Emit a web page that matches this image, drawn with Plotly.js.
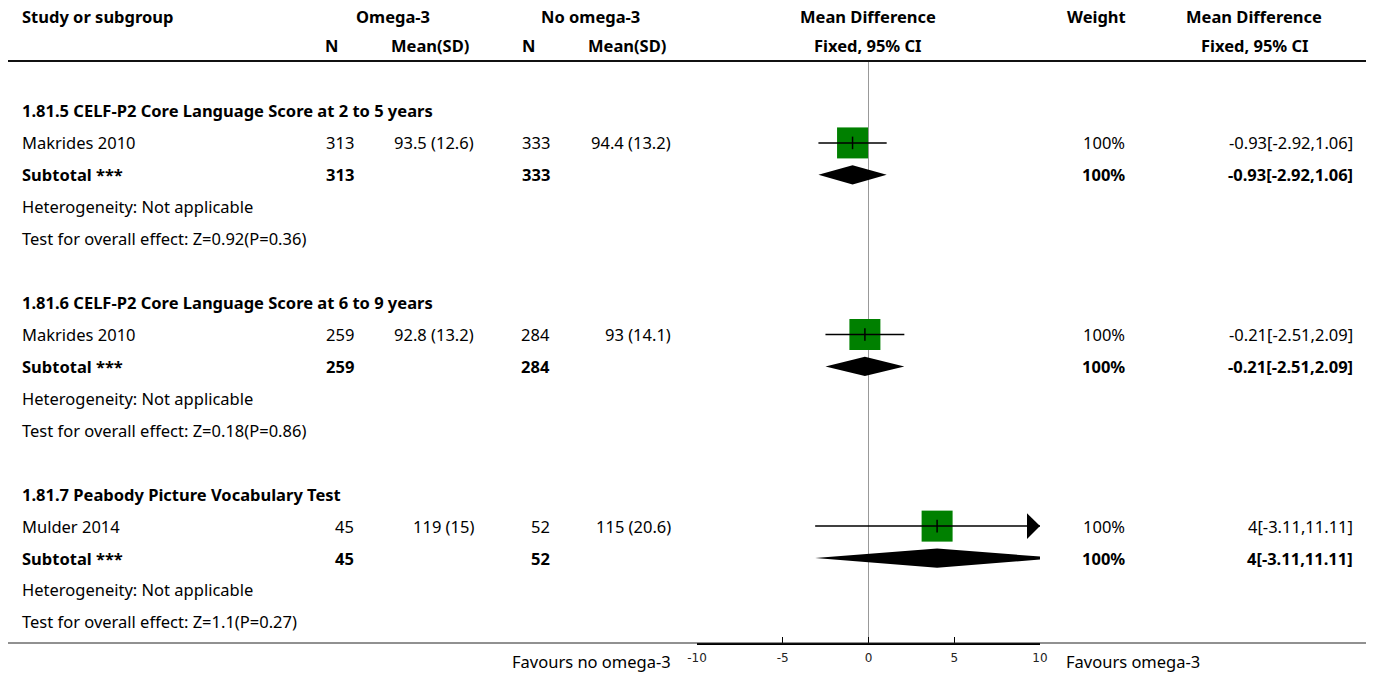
<!DOCTYPE html>
<html>
<head>
<meta charset="utf-8">
<script src="https://cdn.plot.ly/plotly-3.0.1.min.js"></script>
<style>html,body{margin:0;padding:0;background:#fff;}#chart{width:1375px;height:675px;}</style>
</head>
<body>
<div id="chart"></div>
<script>
// ---------- data ----------
const subgroupTitles = [
  "1.81.5 CELF-P2 Core Language Score at 2 to 5 years",
  "1.81.6 CELF-P2 Core Language Score at 6 to 9 years",
  "1.81.7 Peabody Picture Vocabulary Test"
];
const studyNames = ["Makrides 2010", "Makrides 2010", "Mulder 2014"];
const omegaN = [313, 259, 45];
const omegaMeanSD = ["93.5 (12.6)", "92.8 (13.2)", "119 (15)"];
const noOmegaN = [333, 284, 52];
const noOmegaMeanSD = ["94.4 (13.2)", "93 (14.1)", "115 (20.6)"];
const md = [-0.93, -0.21, 4];
const ciLow = [-2.92, -2.51, -3.11];
const ciHigh = [1.06, 2.09, 11.11];
const weights = ["100%", "100%", "100%"];
const subtotalMD = [-0.93, -0.21, 4];
const subtotalLow = [-2.92, -2.51, -3.11];
const subtotalHigh = [1.06, 2.09, 11.11];
const heterogeneity = ["Heterogeneity: Not applicable", "Heterogeneity: Not applicable", "Heterogeneity: Not applicable"];
const overallEffect = ["Test for overall effect: Z=0.92(P=0.36)", "Test for overall effect: Z=0.18(P=0.86)", "Test for overall effect: Z=1.1(P=0.27)"];
const tickValues = [-10, -5, 0, 5, 10];
const tickLabels = ["-10", "-5", "0", "5", "10"];
const axisMin = -10, axisMax = 10;

// ---------- layout helpers ----------
const W = 1375;
const FONT = "'Noto Sans', Lato, sans-serif";
const FS = 16.5;
const px = v => v / W;
const rowsPerGroup = 6;   // title, study, subtotal, heterogeneity, test, blank
const groupStart = g => g * rowsPerGroup;
const shiftX = (x, anchor) => anchor === 'left' ? x - 2 : (anchor === 'right' ? x + 2 : x);

const traces = [];
const annotations = [];
function txt(x, y, text, anchor, bold, yref) {
  annotations.push({
    xref: 'paper', yref: yref || 'y', x: px(shiftX(x, anchor)), y: y, text: bold ? '<b>' + text + '</b>' : text,
    xanchor: anchor, yanchor: 'middle', showarrow: false,
    font: {family: FONT, size: FS, color: '#000'}
  });
}

// squares / CI lines / center ticks / diamonds
const sqX = [], sqY = [], ciX = [], ciY = [], arrows = [];
subgroupTitles.forEach((t, g) => {
  const r0 = groupStart(g);
  const rStudy = r0 + 1, rSub = r0 + 2;
  sqX.push(md[g]); sqY.push(rStudy);
  ciX.push(ciLow[g], Math.min(ciHigh[g], axisMax), null);
  ciY.push(rStudy, rStudy, null);
  if (ciHigh[g] > axisMax) arrows.push(rStudy);
  // diamond
  const h = 0.3;
  traces.push({
    x: [subtotalLow[g], subtotalMD[g], subtotalHigh[g], subtotalMD[g], subtotalLow[g]],
    y: [rSub, rSub - h, rSub, rSub + h, rSub],
    type: 'scatter', mode: 'lines', fill: 'toself', fillcolor: '#000',
    line: {color: '#000', width: 0}, hoverinfo: 'skip', showlegend: false
  });
  // text
  txt(22, r0, t, 'left', true);
  txt(22, rStudy, studyNames[g], 'left');
  txt(354, rStudy, String(omegaN[g]), 'right');
  txt(474, rStudy, omegaMeanSD[g], 'right');
  txt(550, rStudy, String(noOmegaN[g]), 'right');
  txt(671, rStudy, noOmegaMeanSD[g], 'right');
  txt(1125, rStudy, weights[g], 'right');
  txt(1353, rStudy, md[g] + '[' + ciLow[g] + ',' + ciHigh[g] + ']', 'right');
  txt(22, rSub, 'Subtotal ***', 'left', true);
  txt(354, rSub, String(omegaN[g]), 'right', true);
  txt(550, rSub, String(noOmegaN[g]), 'right', true);
  txt(1125, rSub, weights[g], 'right', true);
  txt(1353, rSub, subtotalMD[g] + '[' + subtotalLow[g] + ',' + subtotalHigh[g] + ']', 'right', true);
  txt(22, r0 + 3, heterogeneity[g], 'left');
  txt(22, r0 + 4, overallEffect[g], 'left');
});

traces.push({x: sqX, y: sqY, type: 'scatter', mode: 'markers',
  marker: {symbol: 'square', size: 31, color: '#008000', line: {width: 0}},
  hoverinfo: 'skip', showlegend: false});
traces.push({x: ciX, y: ciY, type: 'scatter', mode: 'lines',
  line: {color: '#000', width: 1.5}, hoverinfo: 'skip', showlegend: false});
traces.push({x: sqX, y: sqY, type: 'scatter', mode: 'markers',
  marker: {symbol: 'line-ns', size: 9, line: {color: '#000', width: 1.5}},
  hoverinfo: 'skip', showlegend: false});
arrows.forEach(r => {
  const aw = 0.76, ah = 0.4;
  traces.push({x: [axisMax - aw, axisMax, axisMax - aw, axisMax - aw], y: [r - ah, r, r + ah, r - ah],
    type: 'scatter', mode: 'lines', fill: 'toself', fillcolor: '#000',
    line: {color: '#000', width: 0}, hoverinfo: 'skip', showlegend: false, cliponaxis: false});
});

// headers (paper y relative to plot area 62..643)
const yp = p => (643 - p) / 581;
function htxt(x, yPix, text, anchor, bold) {
  annotations.push({xref: 'paper', yref: 'paper', x: px(shiftX(x, anchor)), y: yp(yPix),
    text: bold === false ? text : '<b>' + text + '</b>',
    xanchor: anchor, yanchor: 'middle', showarrow: false, font: {family: FONT, size: FS, color: '#000'}});
}
htxt(22, 17, 'Study or subgroup', 'left');
htxt(393, 17, 'Omega-3', 'center');
htxt(590, 17, 'No omega-3', 'center');
htxt(868, 17, 'Mean Difference', 'center');
htxt(1096, 17, 'Weight', 'center');
htxt(1254, 17, 'Mean Difference', 'center');
htxt(338, 46, 'N', 'right');
htxt(469, 46, 'Mean(SD)', 'right');
htxt(535, 46, 'N', 'right');
htxt(666, 46, 'Mean(SD)', 'right');
htxt(868, 46, 'Fixed, 95% CI', 'center');
htxt(1309, 46, 'Fixed, 95% CI', 'right');
htxt(671, 661, 'Favours no omega-3', 'right', false);
htxt(1066, 661, 'Favours omega-3', 'left', false);

const layout = {
  width: 1375, height: 675,
  margin: {l: 0, r: 0, t: 62, b: 32, pad: 0},
  paper_bgcolor: '#fff', plot_bgcolor: 'rgba(0,0,0,0)',
  showlegend: false,
  xaxis: {
    domain: [697 / W, 1040 / W], range: [axisMin, axisMax],
    tickvals: tickValues, ticktext: tickLabels,
    ticks: 'inside', ticklen: 6, tickcolor: '#000', tickwidth: 1,
    showline: true, linecolor: '#000', linewidth: 2,
    showgrid: false, zeroline: false, fixedrange: true,
    ticklabelstandoff: 3,
    tickfont: {family: "'DejaVu Sans', sans-serif", size: 12, color: '#222'}
  },
  yaxis: {
    range: [16.66, -1.534], visible: false, showgrid: false, zeroline: false, fixedrange: true
  },
  shapes: [
    {type: 'line', xref: 'paper', yref: 'paper', x0: px(8), x1: px(1366), y0: yp(61), y1: yp(61), line: {color: '#111', width: 2}},
    {type: 'line', xref: 'paper', yref: 'paper', x0: px(8), x1: px(1366), y0: 0, y1: 0, line: {color: '#222', width: 1}},
    {type: 'line', xref: 'x', yref: 'paper', x0: 0, x1: 0, y0: 0, y1: 1, line: {color: '#999', width: 1}, layer: 'below'}
  ],
  annotations: annotations
};

Plotly.newPlot('chart', traces, layout, {displayModeBar: false, staticPlot: true});
</script>
</body>
</html>
